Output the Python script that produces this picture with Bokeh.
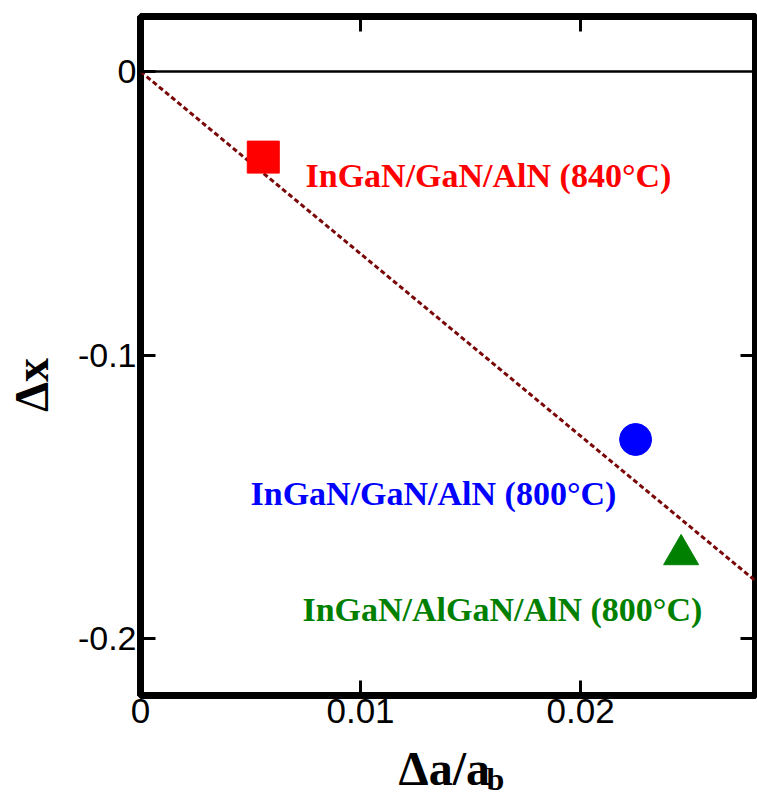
import math
from bokeh.plotting import figure
from bokeh.models import Range1d, LinearAxis, FixedTicker, Label, ColumnDataSource
from bokeh.core.properties import value
from bokeh.embed import file_html
from bokeh.resources import INLINE

# ---- data ----
samples = ["InGaN/GaN/AlN (840\u00b0C)", "InGaN/GaN/AlN (800\u00b0C)", "InGaN/AlGaN/AlN (800\u00b0C)"]
da_ab = [0.00558, 0.0225, 0.02457]
dx = [-0.0302, -0.1298, -0.1704]
colors = ["#ff0000", "#0000ff", "#008000"]
markers = ["square", "circle", "triangle"]
marker_sizes = [32, 32, 35]
label_x = [0.0075, 0.0050, 0.00736]
label_y = [-0.0367, -0.1487, -0.1896]

fit_x = [0.0, 0.028]
fit_y = [0.0, -0.18]
zero_x = [0.0, 0.028]
zero_y = [0.0, 0.0]

x_ticks = [0.0, 0.01, 0.02]
x_tick_labels = ["0", "0.01", "0.02"]
y_ticks = [-0.2, -0.1, 0.0]
y_tick_labels = ["-0.2", "-0.1", "0"]

p = figure(frame_width=615, frame_height=679,
           x_range=Range1d(0.0, 0.02795), y_range=Range1d(-0.2201, 0.0194),
           output_backend="svg", toolbar_location=None,
           min_border_left=140, min_border_right=2, min_border_top=16, min_border_bottom=102)
p.grid.visible = False
p.outline_line_color = "black"
p.outline_line_width = 7
p.background_fill_color = "white"
p.border_fill_color = "white"

def style_axis(ax, ticks, labels, font_size, standoff):
    ax.ticker = FixedTicker(ticks=ticks)
    ax.major_label_overrides = {t: l for t, l in zip(ticks, labels)}
    ax.axis_line_color = None
    ax.major_tick_in = 15
    ax.major_tick_out = 0
    ax.major_tick_line_width = 3
    ax.major_tick_line_color = "black"
    ax.minor_tick_line_color = None
    ax.major_label_text_font = "Liberation Sans"
    ax.major_label_text_font_size = font_size
    ax.major_label_text_color = "black"
    ax.major_label_standoff = standoff

style_axis(p.xaxis[0], x_ticks, x_tick_labels, "35px", 3)
style_axis(p.yaxis[0], y_ticks, y_tick_labels, "34px", 4)

top = LinearAxis()
style_axis(top, x_ticks[1:], ["" for _ in x_ticks[1:]], "1px", 0)
p.add_layout(top, "above")
right = LinearAxis()
style_axis(right, y_ticks[:2], ["" for _ in y_ticks[:2]], "1px", 0)
p.add_layout(right, "right")

# zero line and fit line
p.line(zero_x, zero_y, line_color="black", line_width=2.5)
p.line(fit_x, fit_y, line_color="#7a0808", line_width=3, line_dash="5 3")

src = ColumnDataSource(dict(x=da_ab, y=dx, color=colors, marker=markers, size=marker_sizes,
                            lx=label_x, ly=label_y, text=samples))
p.scatter(x="x", y="y", marker="marker", size="size", fill_color="color", line_color="color", source=src)
p.text(x="lx", y="ly", text="text", text_color="color", text_font=value("Liberation Serif"),
       text_font_style="bold", text_font_size="34px", text_baseline="middle", source=src)

# axis titles (in side panels so they are not clipped to the frame)
p.add_layout(Label(x=0.01173, y=-0.2459, text="\u0394a/a", text_font="Liberation Serif",
                   text_font_style="bold", text_font_size="48px", text_baseline="middle",
                   text_color="black"), "below")
p.add_layout(Label(x=-0.00495, y=-0.1201, text="\u0394x", text_font="Liberation Serif",
                   text_font_style="bold", text_font_size="48px", text_baseline="middle",
                   angle=math.pi / 2, text_color="black"), "left")
p.add_layout(Label(x=0.01573, y=-0.2494, text="b", text_font="Liberation Serif",
                   text_font_style="bold", text_font_size="32px", text_baseline="middle",
                   text_color="black"), "left")

open("out.html", "w").write(file_html(p, INLINE))
